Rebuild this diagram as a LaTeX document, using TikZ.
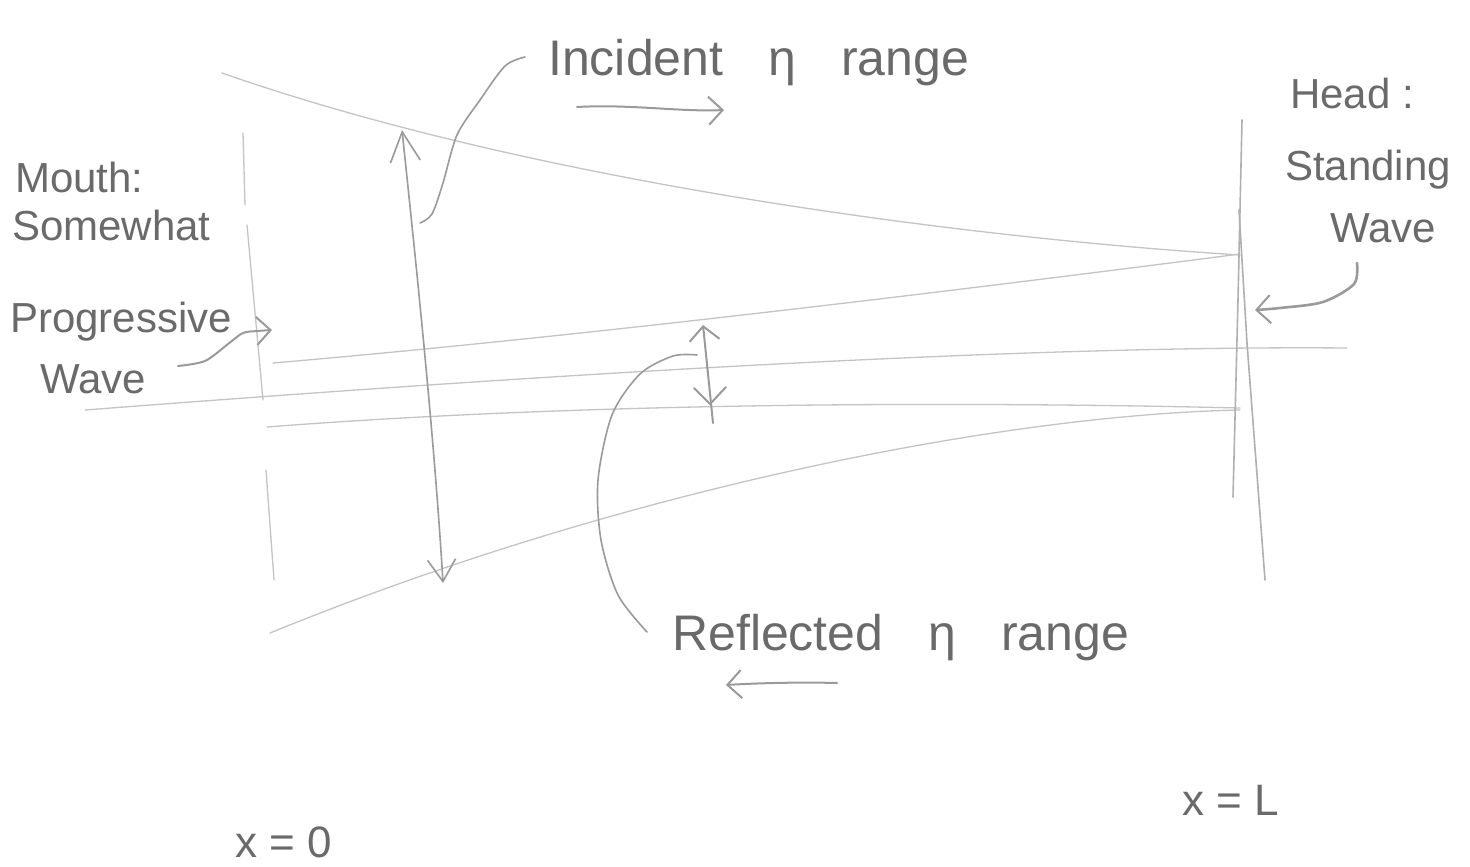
\documentclass[tikz,border=0pt]{standalone}
\usepackage{fontspec}
\setmainfont{Liberation Sans}
\usetikzlibrary{arrows.meta}
\definecolor{pencil}{HTML}{C4C4C4}
\definecolor{lead}{HTML}{9A9A9A}
\definecolor{ink}{HTML}{6A6A6A}
\begin{document}
\begin{tikzpicture}[x=1pt,y=-1pt,
  faint/.style={draw=pencil,line width=1.3pt,line cap=round,line join=round},
  wall/.style={draw=pencil!90!black,line width=1.6pt,line cap=round},
  leader/.style={draw=lead,line width=2pt,line cap=round,line join=round},
  tipped/.style={-{Straight Barb[length=14pt,width=28pt,line width=2pt]}},
  lbl/.style={text=ink,inner sep=0pt,anchor=base west},
  bigfont/.style={font=\fontsize{50}{56}\selectfont},
  sidefont/.style={font=\fontsize{42}{48}\selectfont},
  xfont/.style={font=\fontsize{44}{50}\selectfont}
]
\useasboundingbox (0,0) rectangle (1470,867);
\fill[white] (0,0) rectangle (1470,867);

% ---- envelope and wave lines ----
\draw[faint] (222,73) .. controls (522,178) and (940,236) .. (1240,255);
\draw[faint] (273,363) .. controls (600,335) and (1000,285) .. (1240,254);
\draw[faint] (85,410) .. controls (500,378) and (1000,345) .. (1347,348);
\draw[faint] (267,427) .. controls (550,405) and (900,400) .. (1240,408);
\draw[faint] (270,633) .. controls (620,490) and (1000,415) .. (1240,410);

% ---- mouth wall (x = 0) ----
\draw[faint] (243,133) -- (245,205);
\draw[faint] (247,225) -- (263,400);
\draw[faint] (266,470) -- (274,580);

% ---- head wall (x = L) ----
\draw[wall] (1242,120) -- (1238,300) -- (1233,497);
\draw[wall] (1239,210) -- (1247,343) -- (1265,580);

% ---- incident range double arrow ----
\coordinate (incTop) at (402,130);
\coordinate (incBot) at (443,583);
\draw[draw=lead,line width=1.6pt,{Straight Barb[length=30pt,width=30pt,line width=1.6pt]}-{Straight Barb[length=22pt,width=28pt,line width=1.6pt]}]
  (incTop) .. controls (420,300) and (435,450) .. (incBot);

% ---- small double arrow ----
\coordinate (smTop) at (703,325);
\coordinate (smBot) at (713,423);
\draw[leader,{Straight Barb[length=14pt,width=30pt,line width=2pt]}-] (smTop) -- (smBot);
\draw[leader] (694,388) -- (710,404) -- (726,387);

% ---- labels ----
\node[lbl,bigfont] (inc) at (548,75) {\spaceskip=0.9em Incident η range};
\node[lbl,bigfont] (refl) at (672,650) {\spaceskip=0.9em Reflected η range};
\node[lbl,sidefont] (m1) at (15,192) {Mouth:};
\node[lbl,sidefont] (m2) at (12,240) {Somewhat};
\node[lbl,sidefont] (m3) at (10,332) {Progressive};
\node[lbl,sidefont] (m4) at (40,393) {Wave};
\node[lbl,sidefont] (h1) at (1290,108) {Head :};
\node[lbl,sidefont] (h2) at (1285,180) {Standing};
\node[lbl,sidefont] (h3) at (1330,242) {Wave};
\node[lbl,xfont] (x0) at (235,857) {x = 0};
\node[lbl,xfont] (xL) at (1182,815) {x = L};

% ---- leader curves ----
\coordinate (incLeadEnd) at (420,223);
\draw[leader,line width=1.6pt] plot[smooth] coordinates {(525,57) (505,66) (480,100) (457,135) (443,183) (432,214) (420,223)};
\coordinate (reflLeadEnd) at (697,355);
\draw[leader,line width=1.6pt] plot[smooth] coordinates {(697,355) (673,356) (640,374) (612,415) (598,480) (601,540) (618,595) (647,632)};

% mouth arrow
\coordinate (mouthTip) at (272,330);
\draw[leader,tipped] plot[smooth] coordinates {(178,366) (205,361) (228,344) (243,333) (258,331) (272,330)};

% head arrow
\coordinate (headTip) at (1255,310);
\draw[leader,tipped,line width=2.6pt] plot[smooth] coordinates {(1357,263) (1354,284) (1323,302) (1280,308) (1255,310)};

% direction arrows
\coordinate (inA) at (577,107);
\coordinate (inB) at (724,110);
\draw[leader,tipped] (inA) .. controls (630,104) and (680,112) .. (inB);
\coordinate (reA) at (837,683);
\coordinate (reB) at (726,685);
\draw[leader,tipped] (reA) .. controls (800,682) and (760,683) .. (reB);
\end{tikzpicture}
\end{document}
